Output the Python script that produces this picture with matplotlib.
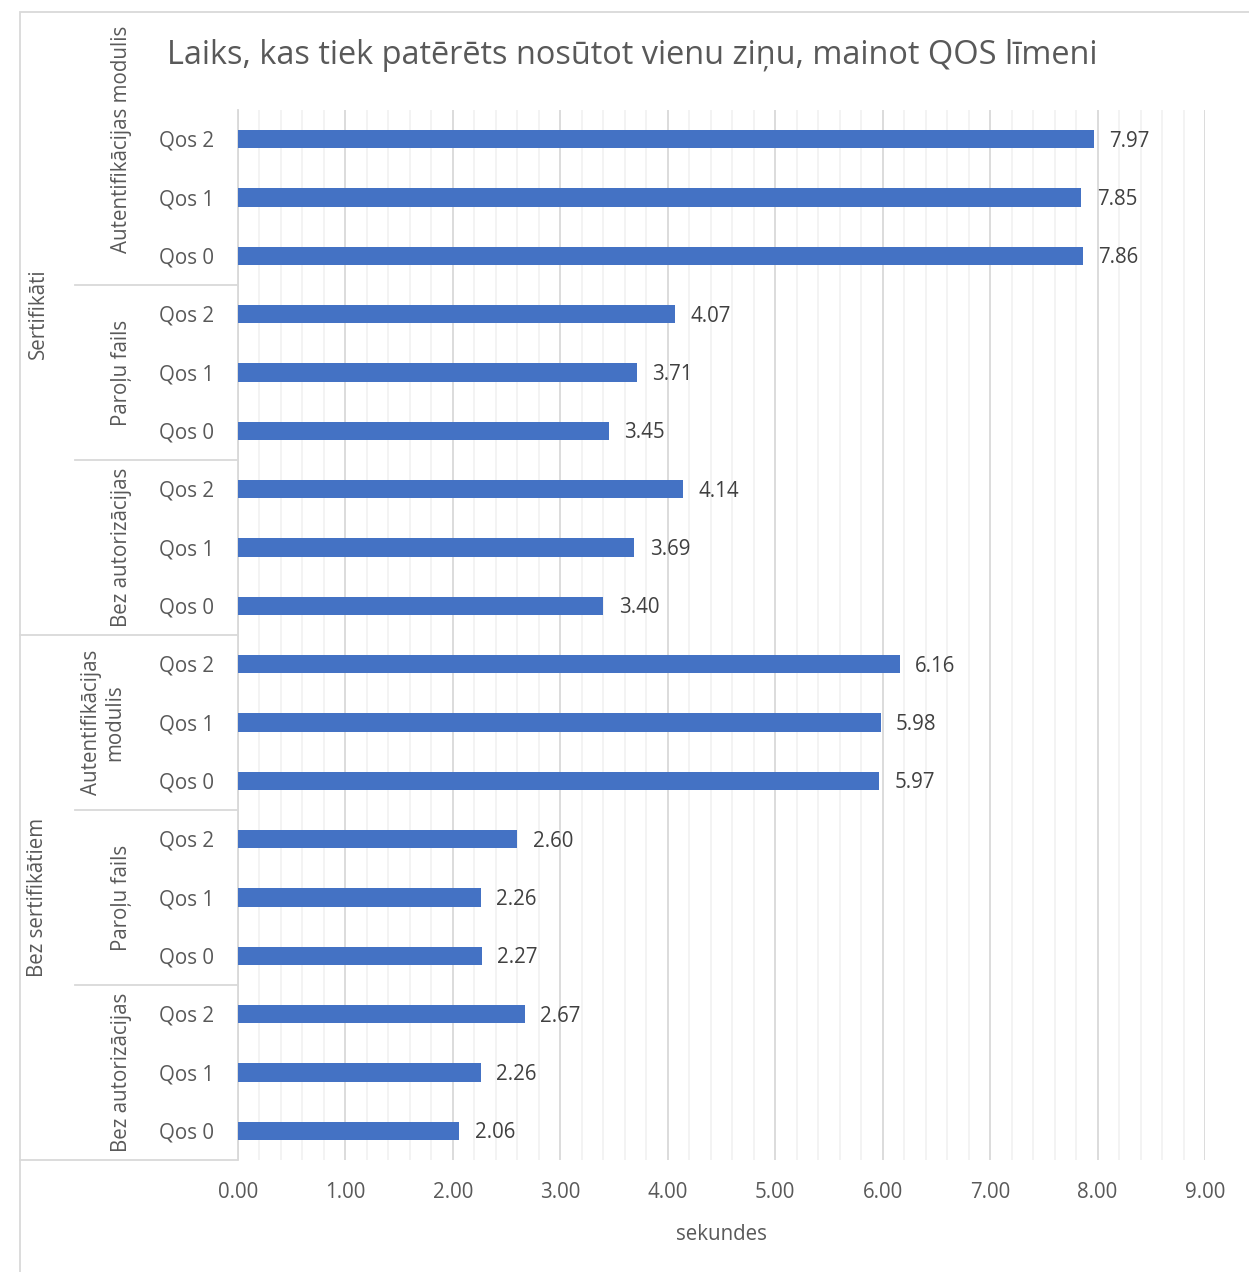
import matplotlib
matplotlib.use("Agg")
import matplotlib.pyplot as plt
import matplotlib.transforms as mtransforms
from matplotlib.patches import Rectangle
from matplotlib.ticker import MultipleLocator
import numpy as np

plt.rcParams['font.family'] = ['Open Sans', 'DejaVu Sans']

# data, top to bottom as in the chart
qos = ['Qos 2', 'Qos 1', 'Qos 0'] * 6
values = [7.97, 7.85, 7.86,
          4.07, 3.71, 3.45,
          4.14, 3.69, 3.40,
          6.16, 5.98, 5.97,
          2.60, 2.26, 2.27,
          2.67, 2.26, 2.06]
methods = ['Autentifikācijas modulis', 'Paroļu fails', 'Bez autorizācijas',
           'Autentifikācijas\nmodulis', 'Paroļu fails', 'Bez autorizācijas']
certs = ['Sertifikāti', 'Bez sertifikātiem']
xticks = np.arange(0, 10)

W, H = 1249, 1272
fig = plt.figure(figsize=(W / 100, H / 100), dpi=100)
ax = fig.add_axes([238 / W, 1 - 1160 / H, (1205 - 238) / W, (1160 - 110) / H])

txt = '#595959'
grid_major = '#D9D9D9'
grid_minor = '#F2F2F2'

y = np.arange(len(values))
ax.barh(y, values, height=0.31, color='#4472C4', zorder=3)
for yi, v in zip(y, values):
    ax.annotate(f'{v:.2f}', (v, yi), xytext=(11, -1.5), textcoords='offset points',
                va='center', ha='left', fontsize=14.8, color='#404040')

ax.set_xlim(0, 9)
ax.set_ylim(len(values) - 0.5, -0.5)
ax.xaxis.set_major_locator(MultipleLocator(1))
ax.xaxis.set_minor_locator(MultipleLocator(0.2))
ax.grid(axis='x', which='major', color=grid_major, lw=1.3, zorder=1)
ax.grid(axis='x', which='minor', color=grid_minor, lw=1.3, zorder=0)
ax.set_xticks(xticks)
ax.set_xticklabels([f'{t:.2f}' for t in xticks], fontsize=14.8, color=txt)
ax.tick_params(axis='x', which='both', length=0, pad=16)
ax.set_yticks([])
for s in ['top', 'right', 'bottom']:
    ax.spines[s].set_visible(False)
ax.spines['left'].set_color(grid_major)
ax.spines['left'].set_linewidth(1.3)
ax.set_xlabel('sekundes', fontsize=14.8, color=txt, labelpad=15)

# multi-level category axis
tr = mtransforms.blended_transform_factory(fig.transFigure, ax.transData)
for yi, q in zip(y, qos):
    ax.annotate(q, (214 / W, yi), xycoords=tr, xytext=(0, -1.5),
                textcoords='offset points', ha='right', va='center',
                fontsize=14.8, color=txt)

method_y = [0.0, 4, 7, 10, 13, 16]
method_x = [121, 121, 121, 103, 121, 121]
for m, my, mx in zip(methods, method_y, method_x):
    ax.text(mx / W, my, m, transform=tr, ha='center', va='center', rotation=90,
            fontsize=14.8, color=txt, multialignment='center', linespacing=1.1)

for c, cy in zip(certs, [3.0, 13.0]):
    ax.text(38 / W, cy, c, transform=tr, ha='center', va='center', rotation=90,
            fontsize=14.8, color=txt)

for b in [2.5, 5.5, 11.5, 14.5]:
    ax.plot([75 / W, 237 / W], [b, b], transform=tr, color=grid_major,
            lw=1.3, clip_on=False)
for b in [8.5, 17.5]:
    ax.plot([20 / W, 237 / W], [b, b], transform=tr, color=grid_major,
            lw=1.3, clip_on=False)

fig.text(632 / W, 1 - 56 / H, 'Laiks, kas tiek patērēts nosūtot vienu ziņu, mainot QOS līmeni',
         ha='center', va='center', fontsize=23.4, color=txt)

fig.patches.append(Rectangle((20 / W, -0.1), 1.2, 1 - 12 / H + 0.1,
                             transform=fig.transFigure, fill=False,
                             edgecolor=grid_major, lw=1.3))

fig.savefig('out.png', dpi=100, facecolor='white')
